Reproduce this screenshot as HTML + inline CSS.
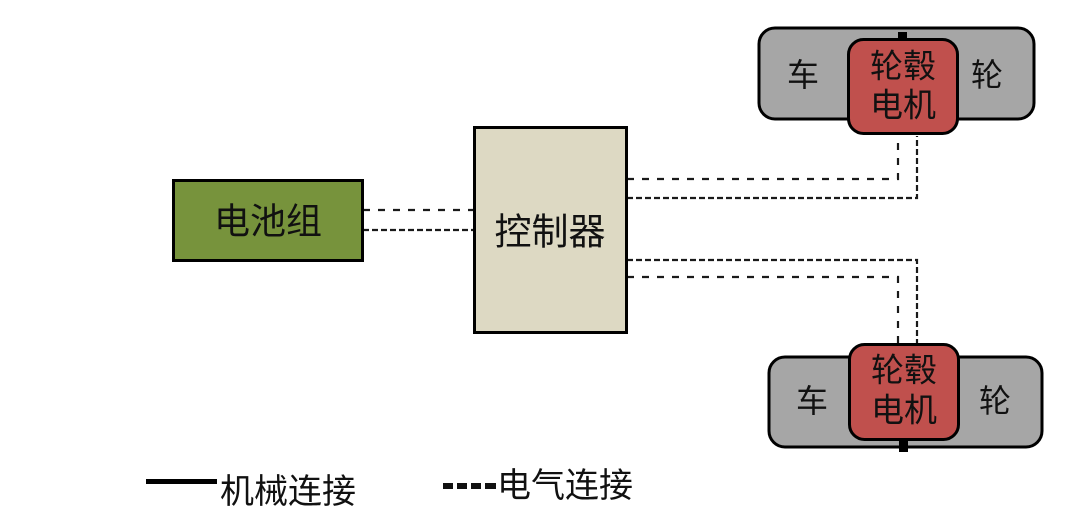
<!DOCTYPE html>
<html>
<head>
<meta charset="utf-8">
<style>
html,body{margin:0;padding:0;background:#fff;}
svg{display:block;}
text{font-family:"Liberation Sans","Noto Sans CJK SC",sans-serif;fill:#111;}
</style>
</head>
<body>
<svg width="1080" height="526" viewBox="0 0 1080 526" xmlns="http://www.w3.org/2000/svg">
  <rect x="0" y="0" width="1080" height="526" fill="#fff"/>
  <!-- connectors -->
  <g fill="none" stroke="#1a1a1a" stroke-width="2.2">
    <path d="M363,210 H473" stroke-dasharray="7,8"/>
    <path d="M363,230 H473" stroke-dasharray="6,3"/>
    <path d="M627,179 H898 V136" stroke-dasharray="7,8"/>
    <path d="M627,198 H917 V136" stroke-dasharray="6,3"/>
    <path d="M627,260 H917 V343" stroke-dasharray="6,3"/>
    <path d="M627,277 H898 V343" stroke-dasharray="7,8"/>
  </g>

  <!-- battery -->
  <rect x="173.5" y="180.5" width="189" height="80" fill="#77933C" stroke="#000" stroke-width="3"/>
  <text x="268" y="221" font-size="36" text-anchor="middle" dominant-baseline="central">电池组</text>

  <!-- controller -->
  <rect x="474.5" y="127.5" width="152" height="205" fill="#DDD9C3" stroke="#000" stroke-width="3"/>
  <text x="550" y="232" font-size="37" text-anchor="middle" dominant-baseline="central">控制器</text>

  <!-- top wheel -->
  <rect x="759" y="28" width="275" height="91" rx="16" fill="#A6A6A6" stroke="#000" stroke-width="3"/>
  <rect x="898" y="32" width="9" height="8" fill="#000"/>
  <rect x="848.5" y="39.5" width="109" height="94" rx="15" fill="#C0504D" stroke="#000" stroke-width="3"/>
  <text x="803" y="75" font-size="32" text-anchor="middle" dominant-baseline="central">车</text>
  <text x="987" y="75" font-size="32" text-anchor="middle" dominant-baseline="central">轮</text>
  <text x="903" y="66" font-size="33" text-anchor="middle" dominant-baseline="central">轮毂</text>
  <text x="903" y="105" font-size="33" text-anchor="middle" dominant-baseline="central">电机</text>

  <!-- bottom wheel -->
  <rect x="769" y="357" width="273" height="90" rx="16" fill="#A6A6A6" stroke="#000" stroke-width="3"/>
  <rect x="899" y="438" width="9" height="14" fill="#000"/>
  <rect x="849.5" y="344.5" width="109" height="95" rx="15" fill="#C0504D" stroke="#000" stroke-width="3"/>
  <text x="812" y="401" font-size="32" text-anchor="middle" dominant-baseline="central">车</text>
  <text x="995" y="401" font-size="32" text-anchor="middle" dominant-baseline="central">轮</text>
  <text x="904" y="370" font-size="33" text-anchor="middle" dominant-baseline="central">轮毂</text>
  <text x="904" y="410" font-size="33" text-anchor="middle" dominant-baseline="central">电机</text>

  <!-- legend -->
  <rect x="146" y="479" width="71" height="5" fill="#000"/>
  <text x="220" y="492" font-size="34" dominant-baseline="central">机械连接</text>
  <rect x="443" y="483" width="10" height="6" fill="#111"/>
  <rect x="457" y="483" width="10" height="6" fill="#111"/>
  <rect x="471" y="483" width="10" height="6" fill="#111"/>
  <rect x="485" y="483" width="11" height="6" fill="#111"/>
  <text x="497" y="486" font-size="34" dominant-baseline="central">电气连接</text>
</svg>
</body>
</html>
